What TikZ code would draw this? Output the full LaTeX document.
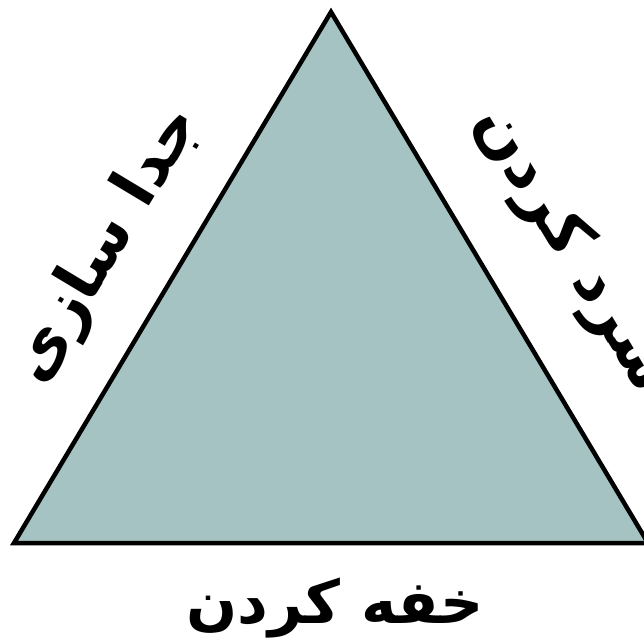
\documentclass[tikz,border=0pt]{standalone}
\usepackage{fontspec}
\newfontfamily\arabicfont[Script=Arabic]{DejaVu Sans}
\TeXXeTstate=1
\definecolor{trifill}{HTML}{A5C3C3}
\begin{document}
\begin{tikzpicture}[x=1pt,y=-1pt,
  lbl/.style={font=\arabicfont\bfseries\fontsize{64}{76}\selectfont, inner sep=0pt}]
\useasboundingbox (0,0) rectangle (643,644);
\coordinate (apex) at (331,12);
\coordinate (bl) at (14,543);
\coordinate (br) at (648,543);
\filldraw[fill=trifill, draw=black, line width=4.5pt, line join=miter] (apex) -- (br) -- (bl) -- cycle;
\node[lbl, rotate=59] (left) at (107,245) {\beginR جدا سازی\endR};
\node[lbl, rotate=-59] (right) at (572,250) {\beginR سرد کردن\endR};
\node[lbl, font=\arabicfont\bfseries\fontsize{60}{72}\selectfont] (bottom) at (335,608) {\beginR خفه کردن\endR};
\end{tikzpicture}
\end{document}
